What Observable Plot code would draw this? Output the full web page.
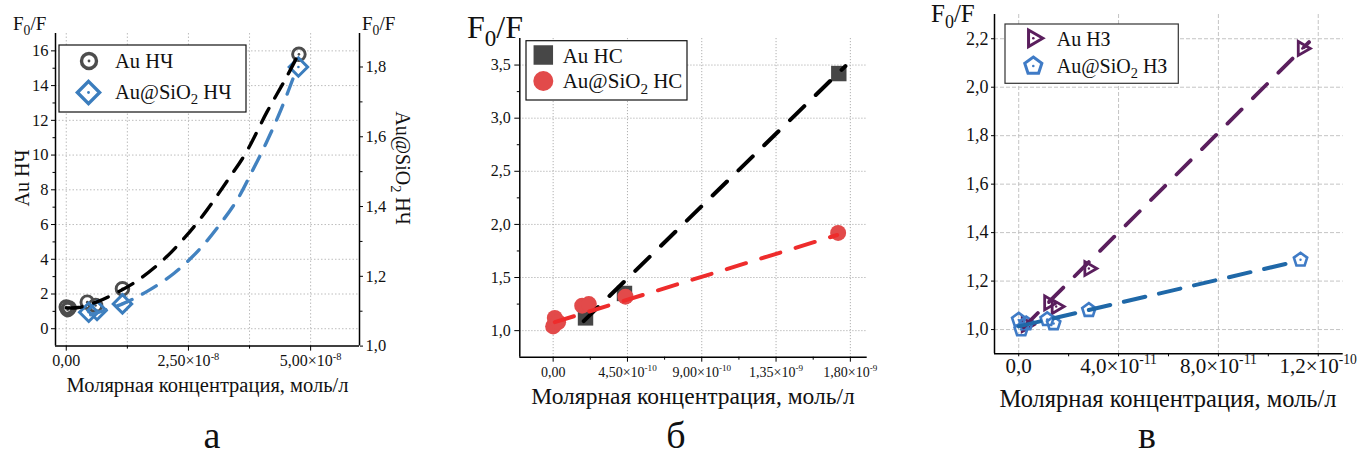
<!DOCTYPE html>
<html><head><meta charset="utf-8">
<script src="https://cdn.jsdelivr.net/npm/d3@7"></script>
<script src="https://cdn.jsdelivr.net/npm/@observablehq/plot@0.6"></script>
<style>
body{margin:0;background:#fff;}
#root{position:relative;width:1361px;height:457px;overflow:hidden;background:#fff;}
</style></head><body><div id="root"></div>
<script>
// ---------- Panel a (НЧ) ----------
const aConcAu = [0, 0.03e-8, 0.06e-8, 0.43e-8, 0.6e-8, 1.15e-8, 4.76e-8];
const aF0FAu  = [1.25, 1.1, 1.2, 1.53, 1.34, 2.3, 15.8];
const aConcSi = [0.46e-8, 0.63e-8, 1.15e-8, 4.75e-8];
const aF0FSi  = [1.097, 1.102, 1.121, 1.8];
const aFitAuX = [0, 0.25e-8, 0.63e-8, 1.0e-8, 1.42e-8, 1.96e-8, 2.44e-8, 2.87e-8, 3.29e-8, 3.67e-8, 4.11e-8, 4.49e-8, 4.74e-8];
const aFitAuY = [1.2, 1.22, 1.55, 2.03, 2.7, 3.9, 5.3, 6.8, 8.5, 10.1, 12.5, 14.4, 15.75];
const aFitSiX = [0.5e-8, 1.15e-8, 1.62e-8, 2.2e-8, 2.73e-8, 3.16e-8, 3.5e-8, 3.8e-8, 4.1e-8, 4.4e-8, 4.72e-8];
const aFitSiY = [1.09, 1.121, 1.154, 1.208, 1.278, 1.352, 1.42, 1.50, 1.585, 1.68, 1.797];
const aXTicks = [0, 2.5e-8, 5e-8];
const aXLabels = ["0,00", "2,50×10^-8", "5,00×10^-8"];
const aXMinor = [1.25e-8, 3.75e-8];
const aXGrid = [0, 1.25e-8, 2.5e-8, 3.75e-8, 5e-8];
const aYTicks = [0, 2, 4, 6, 8, 10, 12, 14, 16];
const aYLabels = ["0", "2", "4", "6", "8", "10", "12", "14", "16"];
const aYMinor = [1, 3, 5, 7, 9, 11, 13, 15];
const aY2Ticks = [1.0, 1.2, 1.4, 1.6, 1.8];
const aY2Labels = ["1,0", "1,2", "1,4", "1,6", "1,8"];
const aY2Minor = [1.1, 1.3, 1.5, 1.7];
const aXDomain = [-0.22e-8, 6.0e-8];
const aYDomain = [-1, 17];
const aY2Domain = [1.0, 1.896];

// ---------- Panel б (НС) ----------
const bConcAu = [1.96e-10, 4.32e-10, 1.73e-9];
const bF0FAu  = [1.12, 1.35, 3.42];
const bConcSi = [0, 0.1e-10, 0.3e-10, 1.76e-10, 2.16e-10, 4.38e-10, 1.726e-9];
const bF0FSi  = [1.04, 1.12, 1.08, 1.235, 1.25, 1.32, 1.92];
const bFitAuX = [1.85e-10, 1.77e-9];
const bFitAuY = [1.09, 3.49];
const bFitSiX = [0.1e-10, 1.72e-9];
const bFitSiY = [1.08, 1.90];
const bXTicks = [0, 4.5e-10, 9e-10, 1.35e-9, 1.8e-9];
const bXLabels = ["0,00", "4,50×10^-10", "9,00×10^-10", "1,35×10^-9", "1,80×10^-9"];
const bXMinor = [2.25e-10, 6.75e-10, 1.125e-9, 1.575e-9];
const bYTicks = [1.0, 1.5, 2.0, 2.5, 3.0, 3.5];
const bYLabels = ["1,0", "1,5", "2,0", "2,5", "3,0", "3,5"];
const bYMinor = [1.25, 1.75, 2.25, 2.75, 3.25];
const bXDomain = [-2.02e-10, 1.902e-9];
const bYDomain = [0.75, 3.75];

// ---------- Panel в (НЗ) ----------
const cConcAu = [0.3e-11, 1.2e-11, 1.5e-11, 2.81e-11, 1.136e-10];
const cF0FAu  = [1.02, 1.11, 1.095, 1.252, 2.16];
const cConcSi = [0, 0.1e-11, 0.3e-11, 1.14e-11, 1.40e-11, 2.81e-11, 1.129e-10];
const cF0FSi  = [1.04, 1.0, 1.025, 1.042, 1.025, 1.08, 1.288];
const cFitAuX = [0.2e-11, 1.163e-10];
const cFitAuY = [1.01, 2.186];
const cFitSiX = [0, 1.12e-10];
const cFitSiY = [1.013, 1.283];
const cXTicks = [0, 4e-11, 8e-11, 1.2e-10];
const cXLabels = ["0,0", "4,0×10^-11", "8,0×10^-11", "1,2×10^-10"];
const cXMinor = [2e-11, 6e-11, 1e-10];
const cYTicks = [1.0, 1.2, 1.4, 1.6, 1.8, 2.0, 2.2];
const cYLabels = ["1,0", "1,2", "1,4", "1,6", "1,8", "2,0", "2,2"];
const cXDomain = [-0.97e-11, 1.30e-10];
const cYDomain = [0.9, 2.3];

const xTitle = "Молярная концентрация, моль/л";

// ---------- helpers ----------
const FONT = "'Liberation Serif','Times New Roman',serif";
const zip = (xs, ys) => xs.map((x, i) => ({x, y: ys[i]}));
const fmt = (ticks, labels) => d => { const i = ticks.indexOf(d); return i >= 0 ? labels[i] : ""; };
const toLeftA = v => aYDomain[0] + (v - aY2Domain[0]) / (aY2Domain[1] - aY2Domain[0]) * (aYDomain[1] - aYDomain[0]);

const pentagon = {draw(ctx, size) {
  const R = Math.sqrt(size / Math.PI);
  for (let i = 0; i < 5; i++) {
    const a = -Math.PI / 2 + i * 2 * Math.PI / 5;
    const px = R * Math.cos(a), py = R * Math.sin(a);
    if (i) ctx.lineTo(px, py); else ctx.moveTo(px, py);
  }
  ctx.closePath();
}};
const triRight = {draw(ctx, size) {
  const R = Math.sqrt(size / Math.PI);
  ctx.moveTo(R, 0);
  ctx.lineTo(-R / 2, R * Math.sqrt(3) / 2);
  ctx.lineTo(-R / 2, -R * Math.sqrt(3) / 2);
  ctx.closePath();
}};

function axes({xDomain, yDomain, xTicks, xLabels, xMinor, yTicks, yLabels, yMinor, xFont, yFont, xTS, xTP, yTS, yTP}) {
  const m = [
    Plot.ruleX([xDomain[0]], {stroke: "#000", strokeWidth: 1.5}),
    Plot.ruleY([yDomain[0]], {stroke: "#000", strokeWidth: 1.5}),
    Plot.axisX(xTicks, {tickFormat: fmt(xTicks, xLabels), tickSize: xTS, tickPadding: xTP, fontSize: xFont, stroke: "#000", fill: "#111", label: null}),
    Plot.axisX(xMinor, {tickFormat: () => "", tickSize: 3, stroke: "#000", label: null}),
    Plot.axisY(yTicks, {tickFormat: fmt(yTicks, yLabels), tickSize: yTS, tickPadding: yTP, fontSize: yFont, stroke: "#000", fill: "#111", label: null}),
  ];
  if (yMinor) m.push(Plot.axisY(yMinor, {tickFormat: () => "", tickSize: 2.5, stroke: "#000", label: null}));
  return m;
}

function supify(svg) {
  d3.select(svg).selectAll("text").each(function() {
    const t = this.textContent; const k = t.indexOf("^");
    if (k < 0) return;
    const fs = parseFloat(getComputedStyle(this).fontSize) || 16;
    const sel = d3.select(this); sel.text(null);
    sel.append("tspan").text(t.slice(0, k));
    sel.append("tspan").attr("dy", -0.42 * fs).attr("font-size", 0.65 * fs).text(t.slice(k + 1));
  });
}

const root = document.getElementById("root");
function place(svg, left) {
  svg.style.position = "absolute"; svg.style.left = left + "px"; svg.style.top = "0px";
  root.appendChild(svg); supify(svg);
}
const baseStyle = {fontFamily: FONT, background: "transparent", color: "#000", overflow: "visible"};

// ---------- Panel a plot ----------
const aY2Pos = aY2Ticks.map(toLeftA);
const aY2MinorPos = aY2Minor.map(toLeftA);
const cA1 = "#4d4d4d", cA2 = "#3b7dbd";
const plotA = Plot.plot({
  width: 450, height: 400, marginLeft: 55, marginRight: 91, marginTop: 33, marginBottom: 54.4,
  x: {domain: aXDomain, label: null}, y: {domain: aYDomain, label: null},
  style: baseStyle,
  marks: [
    Plot.gridX(aXGrid, {stroke: "#bdbdbd", strokeOpacity: 1, strokeDasharray: "1.5,2"}),
    Plot.gridY(aYTicks, {stroke: "#bdbdbd", strokeOpacity: 1, strokeDasharray: "1.5,2"}),
    Plot.dot(zip(aConcAu, aF0FAu), {x: "x", y: "y", r: 6.3, stroke: cA1, strokeWidth: 2.9, fill: "none"}),
    Plot.dot(zip(aConcAu, aF0FAu), {x: "x", y: "y", r: 1.3, fill: cA1}),
    Plot.dot(zip(aConcSi, aF0FSi.map(toLeftA)), {x: "x", y: "y", symbol: "diamond2", r: 8.3, stroke: cA2, strokeWidth: 3, fill: "none"}),
    Plot.dot(zip(aConcSi, aF0FSi.map(toLeftA)), {x: "x", y: "y", r: 1.3, fill: cA2}),
    Plot.line(zip(aFitAuX, aFitAuY), {x: "x", y: "y", curve: "catmull-rom", stroke: "#000", strokeWidth: 3.4, strokeDasharray: "16,12"}),
    Plot.line(zip(aFitSiX, aFitSiY.map(toLeftA)), {x: "x", y: "y", curve: "catmull-rom", stroke: "#4282c0", strokeWidth: 3.4, strokeDasharray: "16,12"}),
    ...axes({xDomain: aXDomain, yDomain: aYDomain, xTicks: aXTicks, xLabels: aXLabels, xMinor: aXMinor, yTicks: aYTicks, yLabels: aYLabels, yMinor: aYMinor, xFont: 16, yFont: 16.5, xTS: 5, xTP: 4, yTS: 4, yTP: 3}),
    Plot.ruleX([aXDomain[1]], {stroke: "#000", strokeWidth: 1.5}),
    Plot.axisY(aY2Pos, {anchor: "right", tickFormat: fmt(aY2Pos, aY2Labels), tickSize: 3, tickPadding: 3, fontSize: 16.5, stroke: "#000", fill: "#111", label: null}),
    Plot.axisY(aY2MinorPos, {anchor: "right", tickFormat: () => "", tickSize: 2.5, stroke: "#000", label: null})
  ]
});
place(plotA, 0);

// ---------- Panel б plot ----------
const cB1 = "#474747", cB2 = "#e24a4a";
const plotB = Plot.plot({
  width: 450, height: 400, marginLeft: 69.3, marginRight: 33.3, marginTop: 38, marginBottom: 43.3,
  x: {domain: bXDomain, label: null}, y: {domain: bYDomain, label: null},
  style: baseStyle,
  marks: [
    Plot.gridX(bXTicks, {stroke: "#b0b0b0", strokeOpacity: 1, strokeDasharray: "1.2,1.8"}),
    Plot.gridY(bYTicks, {stroke: "#b0b0b0", strokeOpacity: 1, strokeDasharray: "1.2,1.8"}),
    Plot.dot(zip(bConcAu, bF0FAu), {x: "x", y: "y", symbol: "square", r: 8.7, fill: cB1}),
    Plot.dot(zip(bConcSi, bF0FSi), {x: "x", y: "y", r: 8, fill: cB2}),
    Plot.line(zip(bFitAuX, bFitAuY), {x: "x", y: "y", stroke: "#000", strokeWidth: 4, strokeDasharray: "20,16"}),
    Plot.line(zip(bFitSiX, bFitSiY), {x: "x", y: "y", stroke: "#ee2c2c", strokeWidth: 4, strokeDasharray: "20,16"}),
    ...axes({xDomain: bXDomain, yDomain: bYDomain, xTicks: bXTicks, xLabels: bXLabels, xMinor: bXMinor, yTicks: bYTicks, yLabels: bYLabels, yMinor: bYMinor, xFont: 14, yFont: 16, xTS: 5, xTP: 5, yTS: 5, yTP: 4})
  ]
});
place(plotB, 450);

// ---------- Panel в plot ----------
const cC1 = "#5a1e5d", cC2 = "#3f7bc6";
const plotC = Plot.plot({
  width: 461, height: 400, marginLeft: 94, marginRight: 18.3, marginTop: 14, marginBottom: 46.7,
  x: {domain: cXDomain, label: null}, y: {domain: cYDomain, label: null},
  style: baseStyle,
  marks: [
    Plot.gridX(cXTicks, {stroke: "#c4c4c4", strokeOpacity: 1, strokeDasharray: "4,2"}),
    Plot.gridY(cYTicks, {stroke: "#c4c4c4", strokeOpacity: 1, strokeDasharray: "4,2"}),
    Plot.dot(zip(cConcAu, cF0FAu), {x: "x", y: "y", symbol: triRight, r: 8, stroke: cC1, strokeWidth: 2.8, fill: "none"}),
    Plot.dot(zip(cConcAu, cF0FAu), {x: "x", y: "y", r: 1.2, fill: cC1}),
    Plot.dot(zip(cConcSi, cF0FSi), {x: "x", y: "y", symbol: pentagon, r: 7, stroke: cC2, strokeWidth: 2.6, fill: "none"}),
    Plot.dot(zip(cConcSi, cF0FSi), {x: "x", y: "y", r: 1.2, fill: cC2}),
    Plot.line(zip(cFitAuX, cFitAuY), {x: "x", y: "y", stroke: "#5b1f5e", strokeWidth: 3.8, strokeDasharray: "20,16"}),
    Plot.line(zip(cFitSiX, cFitSiY), {x: "x", y: "y", stroke: "#1f68a8", strokeWidth: 4, strokeDasharray: "22,14"}),
    ...axes({xDomain: cXDomain, yDomain: cYDomain, xTicks: cXTicks, xLabels: cXLabels, xMinor: cXMinor, yTicks: cYTicks, yLabels: cYLabels, yMinor: null, xFont: 21, yFont: 18, xTS: 3, xTP: 1, yTS: 3, yTP: 3})
  ]
});
place(plotC, 900);

// ---------- overlay: titles, axis labels, legends ----------
const ov = d3.select(root).append("svg").attr("width", 1361).attr("height", 457)
  .style("position", "absolute").style("left", "0px").style("top", "0px")
  .attr("font-family", FONT);

function rich(str, x, y, size, {anchor = "start", rotate = 0, fill = "#111"} = {}) {
  const t = ov.append("text").attr("transform", `translate(${x},${y}) rotate(${rotate})`)
    .attr("font-size", size).attr("text-anchor", anchor).attr("fill", fill);
  const shift = 0.25 * size;
  let buf = "", inSub = false;
  for (let i = 0; i < str.length; i++) {
    if (str[i] === "_") {
      if (buf) { const s = t.append("tspan").text(buf); if (inSub) s.attr("dy", -shift); inSub = false; buf = ""; }
      t.append("tspan").attr("dy", shift).attr("font-size", size * 0.72).text(str[i + 1]);
      i++; inSub = true;
    } else buf += str[i];
  }
  if (buf) { const s = t.append("tspan").text(buf); if (inSub) s.attr("dy", -shift); }
  return t;
}

// titles F0/F
rich("F_0/F", 13, 30, 19);
rich("F_0/F", 362, 30, 19);
rich("F_0/F", 467, 38, 32);
rich("F_0/F", 931, 22, 25);
// y titles panel a
rich("Au НЧ", 29, 178, 20, {anchor: "middle", rotate: -90});
rich("Au@SiO_2 НЧ", 396, 168, 20, {anchor: "middle", rotate: 90});
// x titles
rich(xTitle, 207.5, 392, 20.5, {anchor: "middle"});
rich(xTitle, 693, 404, 23.5, {anchor: "middle"});
rich(xTitle, 1168, 407, 24.5, {anchor: "middle"});
// panel letters
rich("а", 212, 448, 38, {anchor: "middle"});
rich("б", 676, 448, 38, {anchor: "middle"});
rich("в", 1147, 448, 38, {anchor: "middle"});

function sym(type, r, x, y, {fill = "none", stroke = "none", sw = 0} = {}) {
  ov.append("path").attr("transform", `translate(${x},${y})`)
    .attr("d", d3.symbol(type, Math.PI * r * r)())
    .attr("fill", fill).attr("stroke", stroke).attr("stroke-width", sw);
}
function box(x, y, w, h, stroke) {
  ov.append("rect").attr("x", x).attr("y", y).attr("width", w).attr("height", h)
    .attr("fill", "#fff").attr("stroke", stroke).attr("stroke-width", 1.2);
}
// legend a
box(59, 45, 187, 67, "#111");
sym(d3.symbolCircle, 7.5, 89, 61, {stroke: cA1, sw: 3.4});
sym(d3.symbolCircle, 1.4, 89, 61, {fill: cA1});
sym(d3.symbolDiamond2, 10, 88.5, 92.5, {stroke: cA2, sw: 3.4});
sym(d3.symbolCircle, 1.4, 88.5, 92.5, {fill: cA2});
rich("Au НЧ", 115, 68, 20.5);
rich("Au@SiO_2 НЧ", 115, 99, 20.5);
// legend b
box(526, 40.7, 161, 59.3, "#111");
sym(d3.symbolSquare, 11, 543.3, 55, {fill: cB1});
sym(d3.symbolCircle, 10, 543.3, 81, {fill: cB2});
rich("Au НС", 562.7, 63.3, 21);
rich("Au@SiO_2 НС", 562.7, 88.3, 21);
// legend c
box(1005, 24, 173.3, 59.3, "#333");
sym(triRight, 9.5, 1033.3, 38.3, {stroke: cC1, sw: 3});
sym(d3.symbolCircle, 1.3, 1033.3, 38.3, {fill: cC1});
sym(pentagon, 9, 1033.3, 66, {stroke: cC2, sw: 3});
sym(d3.symbolCircle, 1.3, 1033.3, 66, {fill: cC2});
rich("Au НЗ", 1056.7, 46, 20);
rich("Au@SiO_2 НЗ", 1056.7, 73.3, 20);
</script></body></html>
